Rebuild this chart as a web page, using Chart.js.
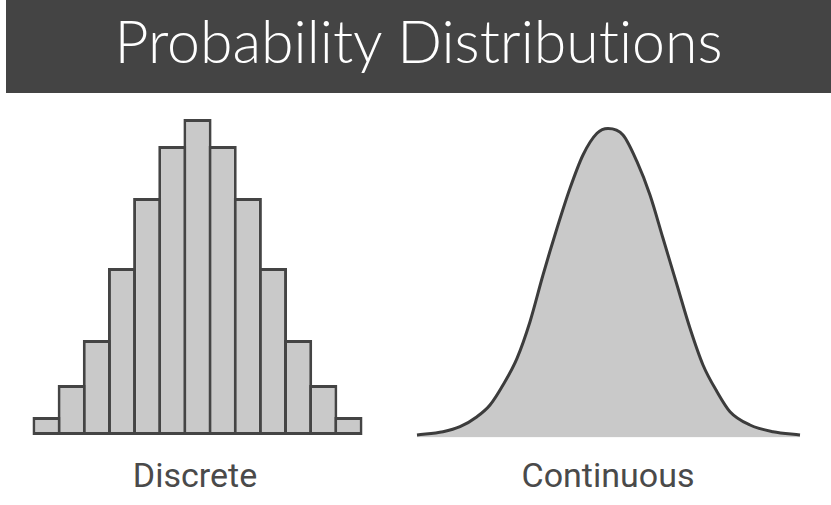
<!DOCTYPE html>
<html>
<head>
<meta charset="utf-8">
<script src="https://cdn.jsdelivr.net/npm/chart.js@4/dist/chart.umd.min.js"></script>
<style>
  body { margin: 0; width: 831px; height: 505px; background: #fff; overflow: hidden; position: relative; }
  #header { position: absolute; left: 6px; top: 0; width: 825px; height: 93px; background: #444444; }
  #title { position: absolute; left: 6px; width: 825px; top: 11px; text-align: center; color: #fff;
           font-family: Lato, sans-serif; font-weight: 300; font-size: 59px; line-height: 1; white-space: nowrap;
           font-variant-ligatures: none; }
  canvas { position: absolute; }
  #discreteChart { left: 0; top: 100px; }
  #continuousChart { left: 400px; top: 100px; }
  .label { position: absolute; top: 458px; width: 240px; text-align: center; color: #4a4a4a;
           font-family: Roboto, sans-serif; font-size: 34px; line-height: 1; }
</style>
</head>
<body>
<div id="header"></div>
<div id="title">Probability Distributions</div>
<canvas id="discreteChart" width="400" height="345"></canvas>
<canvas id="continuousChart" width="431" height="345"></canvas>
<div class="label" style="left: 75px;">Discrete</div>
<div class="label" style="left: 488px;">Continuous</div>
<script>
// histogram bins and bar heights
const histBins = ['0', '1', '2', '3', '4', '5', '6', '7', '8', '9', '10', '11', '12'];
const histValues = [18, 50, 95, 167, 237, 289, 316, 289, 237, 167, 95, 50, 18];

// bell curve sample points
const curveX = [0, 26, 43, 60, 73, 86, 100, 113, 126, 140, 153, 166, 180, 191, 206, 220, 233, 246, 260, 273, 286, 300, 313, 333, 356, 383];
const curveY = [2.5, 5.8, 10.8, 20.8, 32.5, 52.5, 79.2, 115.8, 162.5, 209.2, 249.2, 282.5, 304.2, 309, 302.5, 275.8, 242.5, 199.2, 152.5, 109.2, 72.5, 45.8, 25.8, 12.5, 5.8, 2.5];

const fillGrey = '#c9c9c9';
const lineGrey = '#444444';

const commonOptions = {
  responsive: false,
  animation: false,
  plugins: { legend: { display: false }, tooltip: { enabled: false } }
};

new Chart(document.getElementById('discreteChart').getContext('2d'), {
  type: 'bar',
  data: {
    labels: histBins,
    datasets: [{
      data: histValues,
      backgroundColor: fillGrey,
      borderColor: lineGrey,
      borderWidth: 3,
      borderSkipped: false,
      categoryPercentage: 1,
      barPercentage: 1.12,
      clip: false
    }]
  },
  options: {
    ...commonOptions,
    layout: { padding: { left: 34, right: 39, top: 15, bottom: 10 } },
    scales: {
      x: { display: false },
      y: { display: false, min: 0, max: 320 }
    }
  }
});

new Chart(document.getElementById('continuousChart').getContext('2d'), {
  type: 'line',
  data: {
    datasets: [{
      data: curveX.map((x, i) => ({ x: x, y: curveY[i] })),
      fill: 'origin',
      backgroundColor: fillGrey,
      borderColor: '#3c3c3c',
      borderWidth: 3,
      pointRadius: 0,
      cubicInterpolationMode: 'monotone',
      clip: false
    }]
  },
  options: {
    ...commonOptions,
    layout: { padding: { left: 17, right: 31, top: 17.5, bottom: 7.5 } },
    scales: {
      x: { type: 'linear', display: false, min: 0, max: 383 },
      y: { display: false, min: 0, max: 320 }
    }
  }
});
</script>
</body>
</html>
